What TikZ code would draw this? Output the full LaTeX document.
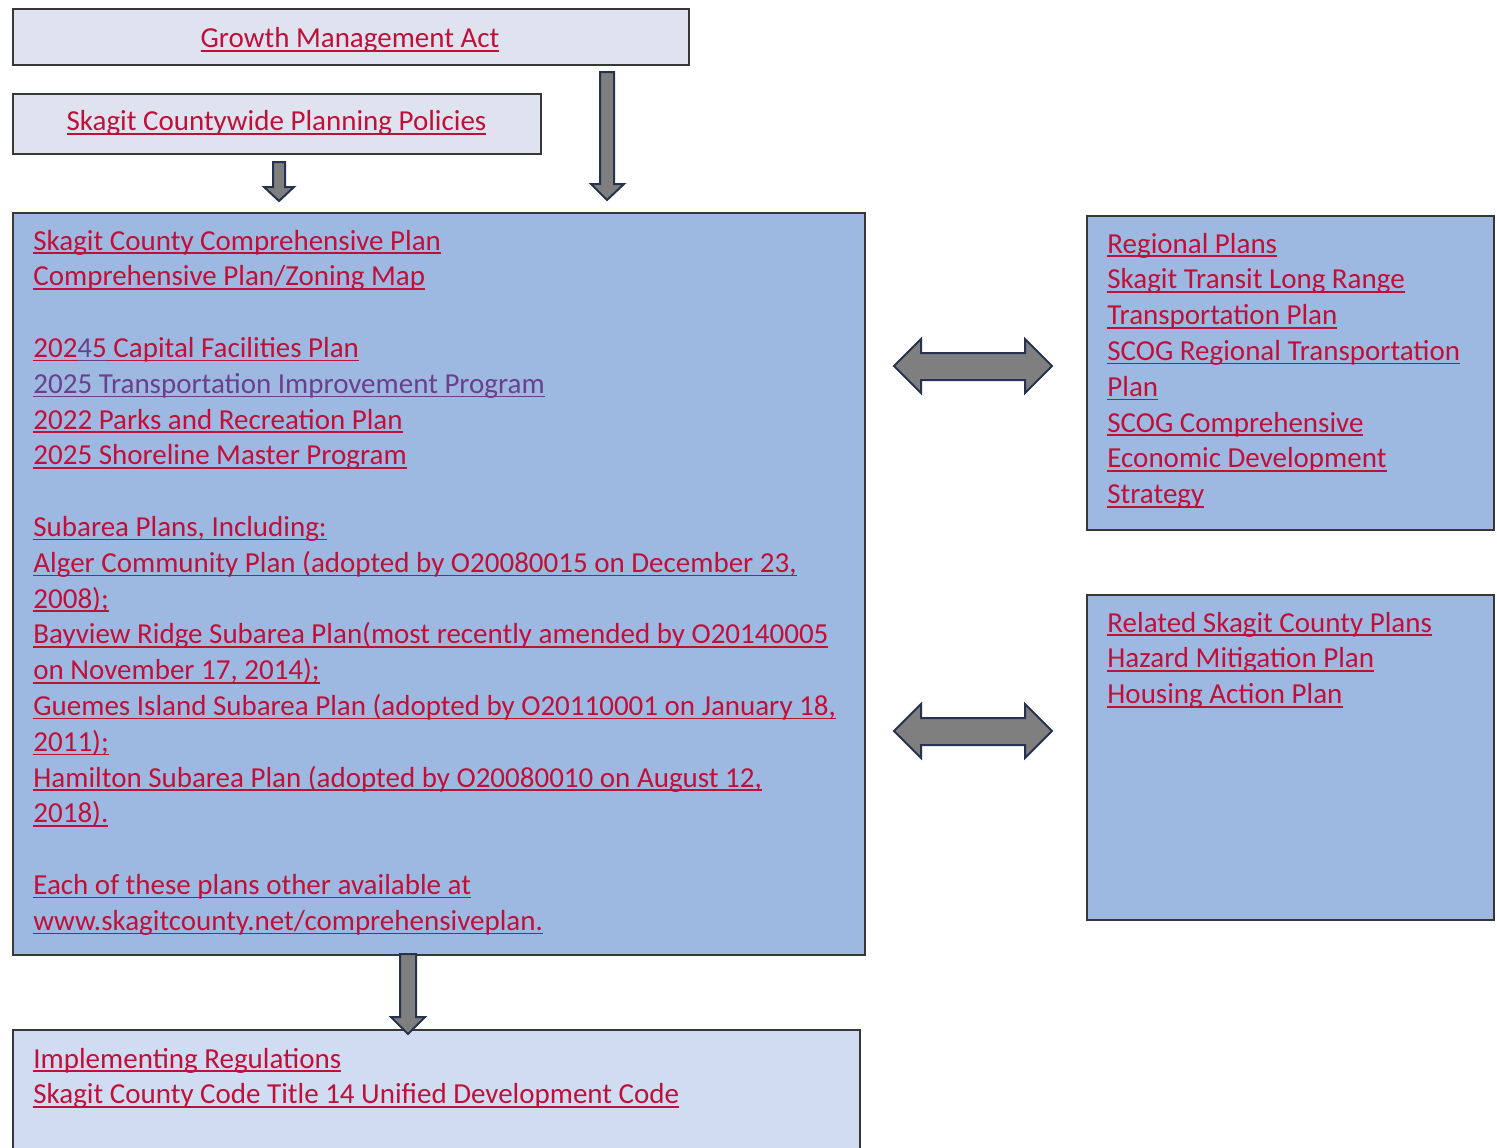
\documentclass[tikz,border=0pt]{standalone}
\usepackage{fontspec}
\setmainfont{Carlito}
\definecolor{lnk}{RGB}{192,16,58}
\definecolor{vis}{RGB}{106,64,140}
\definecolor{palebox}{RGB}{222,227,239}
\definecolor{midbox}{RGB}{157,185,225}
\definecolor{lightbox}{RGB}{207,220,241}
\definecolor{boxedge}{RGB}{55,55,55}
\definecolor{arrfill}{RGB}{127,127,127}
\definecolor{arredge}{RGB}{38,50,78}
\newcommand\ul[1]{\setbox0\hbox{#1}\rlap{\rule[-2pt]{\wd0}{0.8pt}}\box0}
\newcommand\ulc[2]{\setbox0\hbox{#2}\rlap{\textcolor{#1}{\rule[-2pt]{\wd0}{0.8pt}}}\box0}
\tikzset{
  box/.style={draw=boxedge, line width=0.8pt, rectangle, inner sep=0pt, anchor=north west},
  txt/.style={inner sep=0pt, anchor=base west, align=left, text=lnk, font=\fontsize{14.5}{17.9}\selectfont},
  ctxt/.style={inner sep=0pt, anchor=base, text=lnk, font=\fontsize{14.5}{17.9}\selectfont},
  blockarrow/.style={draw=arredge, fill=arrfill, line width=1pt, line join=miter}
}
\begin{document}
\begin{tikzpicture}[x=0.5pt,y=-0.5pt]
\useasboundingbox (0,0) rectangle (1497,1147);
\clip (0,0) rectangle (1497,1147);
% boxes
\node[box, fill=palebox, minimum width=676*0.5pt, minimum height=56*0.5pt] (gma) at (12,8) {};
\node[box, fill=palebox, minimum width=528*0.5pt, minimum height=60*0.5pt] (scpp) at (12,93) {};
\node[box, fill=midbox, minimum width=852*0.5pt, minimum height=742*0.5pt] (cp) at (12,212) {};
\node[box, fill=midbox, minimum width=407*0.5pt, minimum height=314*0.5pt] (reg) at (1086,215) {};
\node[box, fill=midbox, minimum width=407*0.5pt, minimum height=325*0.5pt] (rel) at (1086,594) {};
\node[box, fill=lightbox, minimum width=847*0.5pt, minimum height=140*0.5pt] (impl) at (12,1029) {};
% texts (anchor = baseline of the last line)
\node[ctxt] (gmat) at (350,47.5) {\ul{Growth Management Act}};
\node[ctxt] (scppt) at (276.5,130.5) {\ul{Skagit Countywide Planning Policies}};
\node[txt] (cpt) at (33,930.2) {\ul{Skagit County Comprehensive Plan}\\
\ul{Comprehensive Plan/Zoning Map}\\
\mbox{}\\
\ul{202}\ulc{vis}{\textcolor{vis}{4}}\ulc{vis}{5}\ul{ Capital Facilities Plan}\\
\textcolor{vis}{\ul{2025 Transportation Improvement Program}}\\
\ul{2022 Parks and Recreation Plan}\\
\ul{2025 Shoreline Master Program}\\
\mbox{}\\
\ul{Subarea Plans, Including:}\\
\ul{Alger Community Plan (adopted by O20080015 on December 23,}\\
\ul{2008);}\\
\ul{Bayview Ridge Subarea Plan(most recently amended by O20140005}\\
\ul{on November 17, 2014);}\\
\ul{Guemes Island Subarea Plan (adopted by O20110001 on January 18,}\\
\ul{2011);}\\
\ul{Hamilton Subarea Plan (adopted by O20080010 on August 12,}\\
\ul{2018).}\\
\mbox{}\\
\ul{Each of these plans other available at}\\
\ul{www.skagitcounty.net/comprehensiveplan.}};
\node[txt] (regt) at (1107,503.6) {\ul{Regional Plans}\\
\ul{Skagit Transit Long Range}\\
\ul{Transportation Plan}\\
\ul{SCOG Regional Transportation}\\
\ul{Plan}\\
\ul{SCOG Comprehensive}\\
\ul{Economic Development}\\
\ul{Strategy}};
\node[txt] (relt) at (1107,703.6) {\ul{Related Skagit County Plans}\\
\ul{Hazard Mitigation Plan}\\
\ul{Housing Action Plan}};
\node[txt] (implt) at (33,1103.8) {\ul{Implementing Regulations}\\
\ul{Skagit County Code Title 14 Unified Development Code}};
% block arrows
\draw[blockarrow] (273,162) -- (285,162) -- (285,187) -- (294,187) -- (279,201) -- (264,187) -- (273,187) -- cycle;
\draw[blockarrow] (600,72) -- (614,72) -- (614,184) -- (624,184) -- (607,200) -- (591,184) -- (600,184) -- cycle;
\draw[blockarrow] (400,954) -- (416,954) -- (416,1017) -- (425,1017) -- (408,1034) -- (391,1017) -- (400,1017) -- cycle;
\draw[blockarrow] (894,366) -- (921,339) -- (921,353) -- (1025,353) -- (1025,339) -- (1052,366) -- (1025,393) -- (1025,380) -- (921,380) -- (921,393) -- cycle;
\draw[blockarrow] (894,731) -- (921,704) -- (921,718) -- (1025,718) -- (1025,704) -- (1052,731) -- (1025,758) -- (1025,745) -- (921,745) -- (921,758) -- cycle;
\end{tikzpicture}
\end{document}
